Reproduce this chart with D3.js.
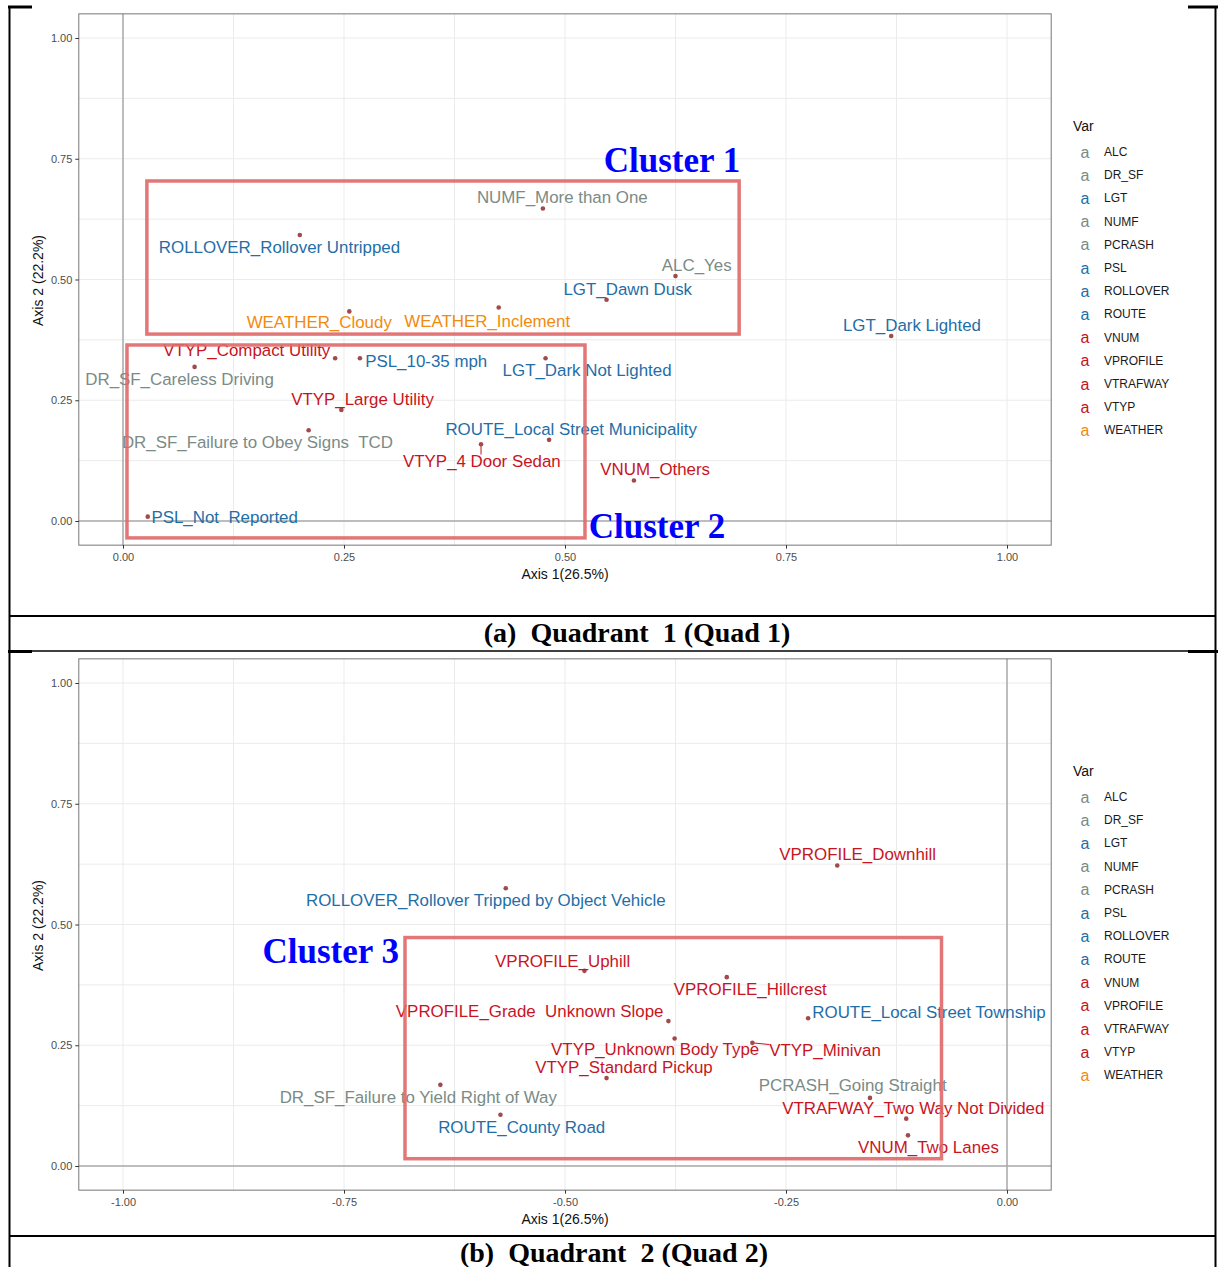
<!DOCTYPE html>
<html><head><meta charset="utf-8">
<script src="https://cdn.jsdelivr.net/npm/d3@7"></script>
<style>body{margin:0;background:#fff}svg{display:block}text{white-space:pre}</style>
</head><body>
<svg id="fig" width="1218" height="1267"></svg>
<script>
// ---------- data ----------
const legendVars = ["ALC","DR_SF","LGT","NUMF","PCRASH","PSL","ROLLOVER","ROUTE","VNUM","VPROFILE","VTRAFWAY","VTYP","WEATHER"];
const axisTicks = [0, 0.25, 0.5, 0.75, 1];
const quad2XTicks = [-1, -0.75, -0.5, -0.25, 0];

const quad1Names = ["NUMF_More than One","ROLLOVER_Rollover Untripped","ALC_Yes","LGT_Dawn Dusk","WEATHER_Inclement","WEATHER_Cloudy","LGT_Dark Lighted","LGT_Dark Not Lighted","VTYP_Compact Utility","PSL_10-35 mph","DR_SF_Careless Driving","VTYP_Large Utility","DR_SF_Failure to Obey Signs  TCD","PSL_Not  Reported","ROUTE_Local Street Municipality","VTYP_4 Door Sedan","VNUM_Others"];
const quad1Dim1 = [0.475,0.200,0.625,0.547,0.425,0.256,0.869,0.478,0.240,0.268,0.081,0.247,0.210,0.028,0.482,0.405,0.578];
const quad1Dim2 = [0.647,0.592,0.507,0.458,0.442,0.434,0.383,0.337,0.337,0.337,0.319,0.230,0.188,0.009,0.168,0.159,0.084];
// repelled label anchors (axis units)
const quad1LabDim1 = [0.497,0.177,0.649,0.571,0.412,0.222,0.8925,0.525,0.140,0.343,0.064,0.271,0.152,0.115,0.507,0.406,0.602];
const quad1LabDim2 = [0.669,0.566,0.528,0.480,0.414,0.410,0.404,0.3126,0.3526,0.331,0.292,0.252,0.163,0.0077,0.190,0.124,0.107];

const quad2Names = ["ROLLOVER_Rollover Tripped by Object Vehicle","VPROFILE_Downhill","VPROFILE_Uphill","VPROFILE_Hillcrest","VPROFILE_Grade  Unknown Slope","ROUTE_Local Street Township","VTYP_Unknown Body Type","VTYP_Minivan","VTYP_Standard Pickup","PCRASH_Going Straight","DR_SF_Failure to Yield Right of Way","VTRAFWAY_Two Way Not Divided","ROUTE_County Road","VNUM_Two Lanes"];
const quad2Dim1 = [-0.567,-0.192,-0.478,-0.317,-0.383,-0.225,-0.376,-0.288,-0.453,-0.155,-0.641,-0.114,-0.573,-0.112];
const quad2Dim2 = [0.575,0.622,0.404,0.391,0.300,0.306,0.264,0.255,0.182,0.141,0.168,0.098,0.106,0.0635];
const quad2LabDim1 = [-0.5896,-0.1689,-0.5026,-0.2904,-0.540,-0.0882,-0.398,-0.2059,-0.4333,-0.1745,-0.666,-0.106,-0.549,-0.0888];
const quad2LabDim2 = [0.5507,0.6439,0.4244,0.3658,0.3195,0.3188,0.2422,0.2381,0.2039,0.1677,0.1422,0.1195,0.0807,0.0379];

// cluster boxes (axis units)
const quad1Clusters = ["Cluster 1","Cluster 2"];
const quad1BoxX0 = [0.027, 0.0045], quad1BoxX1 = [0.697, 0.5226];
const quad1BoxY0 = [0.387, -0.035], quad1BoxY1 = [0.704, 0.3644];
const quad1ClusterLabX = [0.621, 0.604], quad1ClusterLabY = [0.747, -0.0104];
const quad2Clusters = ["Cluster 3"];
const quad2BoxX0 = [-0.681], quad2BoxX1 = [-0.0741];
const quad2BoxY0 = [0.0151], quad2BoxY1 = [0.473];
const quad2ClusterLabX = [-0.765], quad2ClusterLabY = [0.445];

const captions = ["(a)  Quadrant  1 (Quad 1)", "(b)  Quadrant  2 (Quad 2)"];

// ---------- styles ----------
const GRAY = "#7a8b86", BLUE = "#1f6ea8", RED = "#c8141f", ORANGE = "#f28a0e";
const color = d3.scaleOrdinal().domain(legendVars)
  .range([GRAY,GRAY,BLUE,GRAY,GRAY,BLUE,BLUE,BLUE,RED,RED,RED,RED,ORANGE]);
function varOf(name){
  let best = legendVars[0], bl = 0;
  legendVars.forEach(v => { if (name.startsWith(v + "_") && v.length > bl) { best = v; bl = v.length; } });
  return best;
}

const svg = d3.select("#fig");
svg.append("rect").attr("width",1218).attr("height",1267).attr("fill","#fff");

function drawPanel(o) {
  const x = d3.scaleLinear().domain(o.xDomain).range([123, 1007]);
  const y = d3.scaleLinear().domain([0, 1]).range([o.y0, o.y0 - 483]);
  const g = svg.append("g");
  const xd = o.xDomain, px0 = x(xd[0] - 0.05), px1 = x(xd[1] + 0.05);
  const py0 = y(1.05), py1 = y(-0.05);
  // grid
  const minorX = d3.range(xd[0] - 0.125, xd[1] + 0.2, 0.125).filter(v => v >= xd[0]-0.05 && v <= xd[1]+0.05);
  const minorY = d3.range(-0.125, 1.2, 0.125).filter(v => v >= -0.05 && v <= 1.05);
  g.selectAll(".gx").data(minorX).join("line").attr("x1", d => x(d)).attr("x2", d => x(d))
    .attr("y1", py0).attr("y2", py1).attr("stroke", "#ebebeb").attr("stroke-width", 1);
  g.selectAll(".gy").data(minorY).join("line").attr("y1", d => y(d)).attr("y2", d => y(d))
    .attr("x1", px0).attr("x2", px1).attr("stroke", "#ebebeb").attr("stroke-width", 1);
  // zero lines
  g.append("line").attr("x1", x(0)).attr("x2", x(0)).attr("y1", py0).attr("y2", py1).attr("stroke", "#aaaaaa").attr("stroke-width", 1.5);
  g.append("line").attr("x1", px0).attr("x2", px1).attr("y1", y(0)).attr("y2", y(0)).attr("stroke", "#aaaaaa").attr("stroke-width", 1.5);
  // border
  g.append("rect").attr("x", px0).attr("y", py0).attr("width", px1 - px0).attr("height", py1 - py0)
    .attr("fill", "none").attr("stroke", "#777").attr("stroke-width", 1);
  // axes
  const fmt = d => d.toFixed(2);
  const ax = g.append("g").attr("transform", `translate(0,${py1})`)
    .call(d3.axisBottom(x).tickValues(o.xTicks).tickFormat(fmt).tickSize(3.5).tickPadding(5));
  const ay = g.append("g").attr("transform", `translate(${px0},0)`)
    .call(d3.axisLeft(y).tickValues(axisTicks).tickFormat(fmt).tickSize(3.5).tickPadding(3));
  [ax, ay].forEach(a => {
    a.select(".domain").remove();
    a.selectAll(".tick line").attr("stroke", "#333");
    a.selectAll(".tick text").attr("fill", "#4d4d4d").style("font-size", "11px").style("font-family", "Liberation Sans, Arial, sans-serif");
  });
  g.append("text").attr("x", (px0 + px1) / 2).attr("y", py1 + 34).attr("text-anchor", "middle")
    .style("font-family", "Liberation Sans, Arial, sans-serif").style("font-size", "14px").attr("fill", "#111").text("Axis 1(26.5%)");
  g.append("text").attr("transform", `translate(38,${(py0 + py1) / 2 + 1}) rotate(-90)`).attr("text-anchor", "middle")
    .attr("dominant-baseline", "central")
    .style("font-family", "Liberation Sans, Arial, sans-serif").style("font-size", "14px").attr("fill", "#111").text("Axis 2 (22.2%)");

  // points + labels
  const pts = o.names.map((n, i) => ({ n, v: varOf(n), x: o.d1[i], y: o.d2[i], lx: o.l1[i], ly: o.l2[i] }));
  const segG = g.append("g");
  g.selectAll(".pt").data(pts).join("circle").attr("cx", d => x(d.x)).attr("cy", d => y(d.y))
    .attr("r", 2.3).attr("fill", "#a04a4c");
  const labs = g.selectAll(".lab").data(pts).join("text")
    .attr("x", d => x(d.lx)).attr("y", d => y(d.ly)).attr("text-anchor", "middle").attr("dominant-baseline", "central")
    .style("font-family", "Liberation Sans, Arial, sans-serif").style("font-size", "16.9px")
    .attr("fill", d => color(d.v)).text(d => d.n);
  // repel-style segments when label is far from its point
  labs.each(function (d) {
    const b = this.getBBox();
    const bx0 = b.x, bx1 = b.x + b.width, by0 = b.y + 3, by1 = b.y + b.height - 3;
    const px = x(d.x), py = y(d.y);
    const nx = Math.max(bx0, Math.min(px, bx1)), ny = Math.max(by0, Math.min(py, by1));
    const dist = Math.hypot(nx - px, ny - py);
    if (dist > 10) {
      segG.append("line").attr("x1", px).attr("y1", py).attr("x2", nx).attr("y2", ny)
        .attr("stroke", color(d.v)).attr("stroke-width", 1);
    }
  });

  // cluster boxes
  o.clusters.forEach((c, i) => {
    g.append("rect").attr("x", x(o.bx0[i])).attr("y", y(o.by1[i]))
      .attr("width", x(o.bx1[i]) - x(o.bx0[i])).attr("height", y(o.by0[i]) - y(o.by1[i]))
      .attr("fill", "none").attr("stroke", "#e06868").attr("stroke-opacity", 0.9).attr("stroke-width", 3.5);
    g.append("text").attr("x", x(o.cx[i])).attr("y", y(o.cy[i])).attr("text-anchor", "middle")
      .attr("dominant-baseline", "central")
      .style("font-family", "Liberation Serif, Times New Roman, serif").style("font-weight", "bold").style("font-size", "35px")
      .attr("fill", "#0000ff").text(c);
  });

  // legend
  const lg = g.append("g");
  lg.append("text").attr("x", 1073).attr("y", o.legY).attr("dominant-baseline", "central")
    .style("font-family", "Liberation Sans, Arial, sans-serif").style("font-size", "14px").attr("fill", "#111").text("Var");
  legendVars.forEach((v, i) => {
    const yy = o.legY + 26 + i * 23.2;
    lg.append("text").attr("x", 1085).attr("y", yy).attr("text-anchor", "middle").attr("dominant-baseline", "central")
      .style("font-family", "Liberation Sans, Arial, sans-serif").style("font-size", "16px").attr("fill", color(v)).text("a");
    lg.append("text").attr("x", 1104).attr("y", yy).attr("dominant-baseline", "central")
      .style("font-family", "Liberation Sans, Arial, sans-serif").style("font-size", "12px").attr("fill", "#1a1a1a").text(v);
  });
}

drawPanel({ xDomain: [0, 1], xTicks: axisTicks, y0: 521, names: quad1Names, d1: quad1Dim1, d2: quad1Dim2,
  l1: quad1LabDim1, l2: quad1LabDim2, clusters: quad1Clusters, bx0: quad1BoxX0, bx1: quad1BoxX1, by0: quad1BoxY0,
  by1: quad1BoxY1, cx: quad1ClusterLabX, cy: quad1ClusterLabY, legY: 126 });
drawPanel({ xDomain: [-1, 0], xTicks: quad2XTicks, y0: 1166, names: quad2Names, d1: quad2Dim1, d2: quad2Dim2,
  l1: quad2LabDim1, l2: quad2LabDim2, clusters: quad2Clusters, bx0: quad2BoxX0, bx1: quad2BoxX1, by0: quad2BoxY0,
  by1: quad2BoxY1, cx: quad2ClusterLabX, cy: quad2ClusterLabY, legY: 771 });

// ---------- figure frame & captions ----------
const fr = svg.append("g").attr("stroke", "#000").attr("fill", "none");
fr.append("line").attr("x1", 9.5).attr("x2", 9.5).attr("y1", 6).attr("y2", 1267).attr("stroke-width", 2);
fr.append("line").attr("x1", 1215.5).attr("x2", 1215.5).attr("y1", 6).attr("y2", 1267).attr("stroke-width", 2);
fr.append("line").attr("x1", 8).attr("x2", 32).attr("y1", 7).attr("y2", 7).attr("stroke-width", 3);
fr.append("line").attr("x1", 1188).attr("x2", 1218).attr("y1", 7).attr("y2", 7).attr("stroke-width", 3);
fr.append("line").attr("x1", 9).attr("x2", 1216).attr("y1", 616).attr("y2", 616).attr("stroke-width", 2);
fr.append("line").attr("x1", 9).attr("x2", 1216).attr("y1", 651).attr("y2", 651).attr("stroke-width", 1.5);
fr.append("line").attr("x1", 8).attr("x2", 32).attr("y1", 651.5).attr("y2", 651.5).attr("stroke-width", 3);
fr.append("line").attr("x1", 1188).attr("x2", 1218).attr("y1", 651.5).attr("y2", 651.5).attr("stroke-width", 3);
fr.append("line").attr("x1", 9).attr("x2", 1216).attr("y1", 1236).attr("y2", 1236).attr("stroke-width", 2);

const capX = [637, 614], capY = [642, 1262];
captions.forEach((c, i) => {
  svg.append("text").attr("x", capX[i]).attr("y", capY[i]).attr("text-anchor", "middle")
    .style("font-family", "Liberation Serif, Times New Roman, serif").style("font-weight", "bold").style("font-size", "28px")
    .attr("fill", "#000").text(c);
});
</script>
</body></html>
